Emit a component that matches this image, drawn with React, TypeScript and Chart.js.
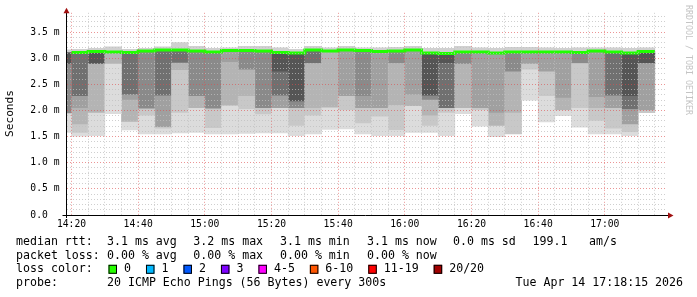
import React, { useEffect, useRef } from 'react';
import { Chart, registerables } from 'chart.js';

Chart.register(...registerables);

// ---------- data ----------
const SLOT_STARTS = ['14:15','14:20','14:25','14:30','14:35','14:40','14:45','14:50','14:55','15:00','15:05','15:10','15:15','15:20','15:25','15:30','15:35','15:40','15:45','15:50','15:55','16:00','16:05','16:10','16:15','16:20','16:25','16:30','16:35','16:40','16:45','16:50','16:55','17:00','17:05','17:10'];
const SLOT_END = '17:15';

// smoke band edges (ms), bottom -> median, per 5-minute slot
const SMOKE_MIN = [1.58,1.51,1.52,1.94,1.63,1.55,1.55,1.57,1.58,1.55,1.55,1.56,1.57,1.57,1.52,1.55,1.64,1.65,1.55,1.52,1.52,1.58,1.58,1.52,1.94,1.70,1.50,1.55,2.20,1.78,1.90,1.68,1.55,1.55,1.52,1.96];
const EDGE_1 = [1.94,1.57,1.95,2.89,1.78,1.90,1.65,1.95,2.04,1.66,2.09,2.02,1.92,2.04,1.70,1.90,2.05,2.00,1.75,1.88,1.62,2.08,1.70,1.95,2.04,2.00,1.70,1.55,2.78,2.27,2.00,2.04,1.80,1.65,1.58,1.96];
const EDGE_2 = [1.94,1.73,1.95,2.89,1.78,2.03,1.68,2.77,2.04,2.03,2.09,2.27,2.04,2.04,2.04,2.04,2.05,2.27,2.04,2.04,2.10,2.08,1.90,2.04,2.04,2.04,1.70,1.95,2.89,2.74,2.00,2.90,2.04,2.04,1.73,2.00];
const EDGE_3 = [1.94,2.04,2.89,3.12,2.20,2.03,1.68,2.91,2.27,2.03,2.92,2.78,2.04,2.04,2.04,2.90,3.14,2.27,2.04,2.04,2.90,2.30,2.20,2.04,2.89,2.04,1.95,2.74,2.89,2.74,2.24,2.90,2.25,2.04,1.73,2.00];
const EDGE_4 = [1.94,2.27,2.89,3.12,2.30,2.03,2.28,2.91,2.27,2.03,3.15,2.78,2.04,2.28,2.04,2.90,3.14,3.16,2.27,3.13,2.90,3.16,2.20,2.04,2.89,3.12,3.10,2.74,3.12,3.12,3.12,2.90,3.14,2.28,2.02,2.90];
const EDGE_5 = [2.89,2.27,2.89,3.12,2.30,3.14,2.28,2.91,3.14,3.12,3.15,3.15,3.14,2.28,2.17,2.90,3.14,3.16,3.15,3.13,3.14,3.16,2.28,2.04,3.12,3.12,3.10,3.12,3.12,3.12,3.12,3.11,3.14,2.28,2.02,2.90];
const EDGE_6 = [2.89,3.11,2.89,3.12,3.11,3.14,3.16,3.16,3.14,3.12,3.15,3.15,3.14,2.74,2.17,3.16,3.14,3.16,3.15,3.13,3.14,3.16,2.28,2.90,3.12,3.12,3.10,3.12,3.12,3.12,3.12,3.11,3.14,3.12,2.27,2.90];
const SMOKE_MEDIAN = [3.11,3.11,3.13,3.12,3.11,3.14,3.16,3.16,3.14,3.12,3.15,3.15,3.14,3.11,3.10,3.16,3.14,3.16,3.15,3.13,3.14,3.16,3.10,3.09,3.12,3.12,3.10,3.12,3.12,3.12,3.12,3.11,3.14,3.12,3.10,3.13];
const SMOKE_MAX = [3.16,3.17,3.19,3.22,3.17,3.19,3.22,3.30,3.23,3.19,3.20,3.23,3.23,3.20,3.17,3.23,3.20,3.23,3.20,3.20,3.21,3.23,3.19,3.19,3.23,3.20,3.19,3.21,3.21,3.20,3.19,3.20,3.20,3.20,3.19,3.20];

const X_TICK_LABELS = ['14:20','14:40','15:00','15:20','15:40','16:00','16:20','16:40','17:00'];
const Y_TICK_LABELS = ['0.0','0.5 m','1.0 m','1.5 m','2.0 m','2.5 m','3.0 m','3.5 m'];

const RTT_STATS = ['3.1 ms avg','3.2 ms max','3.1 ms min','3.1 ms now','0.0 ms sd'];
const RATE_STATS = ['199.1','am/s'];
const LOSS_STATS = ['0.00 % avg','0.00 % max','0.00 % min','0.00 % now'];
const LOSS_LABELS = ['0','1','2','3','4-5','6-10','11-19','20/20'];
const LOSS_COLORS = ['#26ff00','#00b8ff','#0059ff','#7e00ff','#ff00ff','#ff5500','#ff0000','#a10000'];
const PROBE_TEXT = '20 ICMP Echo Pings (56 Bytes) every 300s';
const DATE_TEXT = 'Tue Apr 14 17:18:15 2026';

// ---------- styles ----------
const FONT = '"DejaVu Sans Mono"';
const BAND_COLORS = ['#dcdcdc','#c8c8c8','#b4b4b4','#a0a0a0','#8a8a8a','#707070','#555555','#d0d0d0'];
const GRID = 'rgba(191,191,191,0.75)';
const MGRID = 'rgba(222,79,79,0.6)';
const ARROW = '#a01010';

const toMin = (s: string) => { const [h, m] = s.split(':').map(Number); return (h - 14) * 60 + m; };
const fmtMin = (v: number) => { const h = 14 + Math.floor(v / 60); const m = v % 60; return `${h}:${String(m).padStart(2, '0')}`; };

const X_MIN = toMin('14:18') + 0.5;
const X_MAX = X_MIN + 180;
const SLOT = 5;

const EDGES = [SMOKE_MIN, EDGE_1, EDGE_2, EDGE_3, EDGE_4, EDGE_5, EDGE_6, SMOKE_MEDIAN, SMOKE_MAX];

function buildDatasets() {
  const ds: any[] = [];
  for (let b = 0; b < EDGES.length - 1; b++) {
    const lo = EDGES[b];
    const hi = EDGES[b + 1];
    const data = SLOT_STARTS.map((s, k) => ({ x: toMin(s) + SLOT / 2, y: [lo[k], hi[k]] }))
      .filter((p) => p.y[1] - p.y[0] > 0.0001);
    ds.push({
      type: 'bar',
      data,
      backgroundColor: BAND_COLORS[b],
      borderWidth: 0,
      grouped: false,
      categoryPercentage: 1,
      barPercentage: 1,
      order: 2,
    });
  }
  const line = SLOT_STARTS.slice(1).map((s, i) => ({ x: toMin(s), y: SMOKE_MEDIAN[i + 1] }));
  line.push({ x: toMin(SLOT_END), y: SMOKE_MEDIAN[SMOKE_MEDIAN.length - 1] });
  ds.push({
    type: 'line',
    data: line,
    borderColor: '#20ff00',
    borderWidth: 3,
    pointRadius: 0,
    stepped: 'before',
    fill: false,
    order: 0,
  });
  return ds;
}

const overlay = {
  id: 'overlay',
  afterDraw(chart: any) {
    const { ctx, chartArea: a } = chart;
    ctx.save();
    // axes
    ctx.strokeStyle = '#000';
    ctx.lineWidth = 1;
    ctx.beginPath();
    ctx.moveTo(a.left - 4, a.bottom + 0.5);
    ctx.lineTo(a.right + 2, a.bottom + 0.5);
    ctx.moveTo(a.left, a.bottom + 3);
    ctx.lineTo(a.left, a.top - 2);
    ctx.stroke();
    ctx.fillStyle = ARROW;
    ctx.beginPath();
    ctx.moveTo(a.left, a.top - 5);
    ctx.lineTo(a.left - 3, a.top + 0.5);
    ctx.lineTo(a.left + 3, a.top + 0.5);
    ctx.closePath();
    ctx.fill();
    ctx.beginPath();
    ctx.moveTo(a.right + 7, a.bottom + 0.5);
    ctx.lineTo(a.right + 1.5, a.bottom - 2.5);
    ctx.lineTo(a.right + 1.5, a.bottom + 3.5);
    ctx.closePath();
    ctx.fill();

    // unit label
    ctx.fillStyle = '#000';
    ctx.font = `11.2px ${FONT}`;
    ctx.textAlign = 'center';
    ctx.textBaseline = 'middle';
    ctx.save();
    ctx.translate(10.5, 113.5);
    ctx.rotate(-Math.PI / 2);
    ctx.fillText('Seconds', 0, 0);
    ctx.restore();

    // watermark
    ctx.save();
    ctx.fillStyle = '#c4c4c4';
    ctx.font = `8.3px ${FONT}`;
    ctx.translate(688, 60);
    ctx.rotate(Math.PI / 2);
    ctx.fillText('RRDTOOL / TOBI OETIKER', 0, 0);
    ctx.restore();

    // legend
    ctx.textAlign = 'left';
    ctx.font = `11.6px ${FONT}`;
    const rows = [241.7, 255.7, 269.3, 283.3];
    const cols = [107, 193.3, 280, 367, 453];
    ctx.fillText('median rtt:', 16, rows[0]);
    RTT_STATS.forEach((t, i) => ctx.fillText(t, cols[i], rows[0]));
    ctx.fillText(RATE_STATS[0], 532.5, rows[0]);
    ctx.fillText(RATE_STATS[1], 589, rows[0]);
    ctx.fillText('packet loss:', 16, rows[1]);
    LOSS_STATS.forEach((t, i) => ctx.fillText(t, cols[i], rows[1]));
    ctx.fillText('loss color:', 16, rows[2]);
    let x = 108.5;
    LOSS_LABELS.forEach((lab, i) => {
      ctx.fillStyle = LOSS_COLORS[i];
      ctx.fillRect(x, rows[2] - 4.5, 8.5, 9);
      ctx.strokeStyle = '#000';
      ctx.strokeRect(x + 0.5, rows[2] - 4, 7.5, 8);
      ctx.fillStyle = '#000';
      ctx.fillText(lab, x + 15.5, rows[2]);
      x += 15.5 + ctx.measureText(lab).width + 15;
    });
    ctx.fillText('probe:', 16, rows[3]);
    ctx.fillText(PROBE_TEXT, 107, rows[3]);
    ctx.fillText(DATE_TEXT, 515.5, rows[3]);
    ctx.restore();
  },
};

export default function App() {
  const ref = useRef<HTMLCanvasElement>(null);
  useEffect(() => {
    const canvas = ref.current!;
    const xLabelSet = new Set(X_TICK_LABELS.map(toMin));
    const chart = new Chart(canvas, {
      type: 'bar',
      data: { datasets: buildDatasets() },
      options: {
        responsive: false,
        animation: false,
        devicePixelRatio: 1,
        events: [],
        layout: { padding: { top: 12.1, right: 30.5, left: 0, bottom: 0 } },
        plugins: { legend: { display: false }, tooltip: { enabled: false }, title: { display: false } },
        scales: {
          x: {
            type: 'linear',
            min: X_MIN,
            max: X_MAX,
            offset: false,
            afterBuildTicks: (s: any) => {
              const t: any[] = [];
              for (let v = toMin(X_TICK_LABELS[0]); v < X_MAX; v += SLOT) t.push({ value: v });
              s.ticks = t;
            },
            afterFit: (s: any) => { s.height = 82; },
            ticks: {
              autoSkip: false,
              maxRotation: 0,
              padding: 4,
              color: '#000',
              font: { family: FONT, size: 9.7 },
              callback: (v: any) => (xLabelSet.has(Number(v)) ? fmtMin(Number(v)) : ''),
            },
            grid: {
              offset: false,
              drawTicks: false,
              lineWidth: 1,
              z: 1,
              color: (c: any) => (c.tick && xLabelSet.has(c.tick.value) ? MGRID : GRID),
            },
            border: { display: false, dash: [1, 2] },
          },
          y: {
            type: 'linear',
            min: 0,
            max: 3.87,
            afterBuildTicks: (s: any) => {
              const t: any[] = [];
              for (let i = 0; i <= 38; i++) t.push({ value: i / 10 });
              s.ticks = t;
            },
            afterFit: (s: any) => { s.width = 66.5; },
            ticks: {
              autoSkip: false,
              padding: 7,
              color: '#000',
              font: { family: FONT, size: 9.7 },
              callback: (v: any) => {
                const n = Math.round(Number(v) * 10);
                if (n % 5 !== 0) return '';
                const lab = Y_TICK_LABELS[n / 5];
                return n === 0 ? lab + '  ' : lab;
              },
            },
            grid: {
              drawTicks: false,
              lineWidth: 1,
              z: 1,
              color: (c: any) => (c.tick && Math.round(c.tick.value * 10) % 5 === 0 ? MGRID : GRID),
            },
            border: { display: false, dash: [1, 2] },
          },
        },
      },
      plugins: [overlay],
    } as any);
    return () => chart.destroy();
  }, []);
  return (
    <div style={{ position: 'absolute', left: 0, top: 0, width: 697, height: 297 }}>
      <canvas ref={ref} width={697} height={297} style={{ display: 'block', width: 697, height: 297 }} />
    </div>
  );
}
